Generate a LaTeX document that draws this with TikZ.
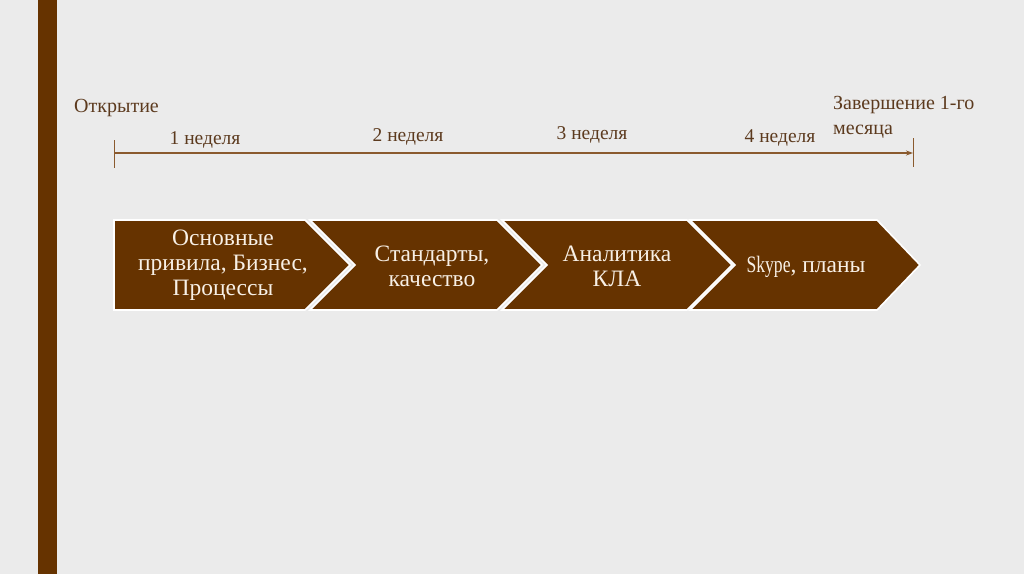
\documentclass[tikz,border=0pt]{standalone}
\usepackage{fontspec}
\setmainfont{Liberation Serif}
\usetikzlibrary{arrows.meta}
\definecolor{bg}{HTML}{EBEBEB}
\definecolor{brn}{HTML}{663300}
\definecolor{lbl}{HTML}{5C3A1E}
\definecolor{tl}{HTML}{8A5A2E}
\definecolor{cream}{HTML}{F8F0E6}
\tikzset{
  chev/.style={fill=brn, draw=white, line width=1.6pt, line join=miter},
  chevtext/.style={text=cream, font=\fontsize{23.5}{25}\selectfont, align=center, inner sep=0pt},
  toplbl/.style={text=lbl, font=\fontsize{20}{25}\selectfont, inner sep=0pt},
  wklbl/.style={text=lbl, font=\fontsize{19.5}{22}\selectfont, inner sep=0pt},
}
\begin{document}
\begin{tikzpicture}[x=1pt,y=-1pt]
\useasboundingbox[fill=bg] (0,0) rectangle (1024,574);
\fill[brn] (38,0) rectangle (57,574);
% timeline
\coordinate (ts) at (114,153);
\coordinate (te) at (913,153);
\draw[tl, line width=1pt] (114,140) -- (114,168);
\draw[tl, line width=1pt] (913,138) -- (913,167);
\draw[tl, line width=1.2pt, -{Stealth[length=7pt,width=5pt]}] (ts) -- (te);
\node[toplbl, anchor=west] (open) at (74,108) {Открытие};
\node[toplbl, anchor=west, align=left] (close) at (833,117) {Завершение 1-го\\месяца};
\node[wklbl] (w1) at (205,140) {1 неделя};
\node[wklbl] (w2) at (408,137) {2 неделя};
\node[wklbl] (w3) at (592,135) {3 неделя};
\node[wklbl] (w4) at (780,138) {4 неделя};
% chevrons
\draw[chev] (114,220) -- (305,220) -- (350,265) -- (305,310) -- (114,310) -- cycle;
\draw[chev] (310,220) -- (497,220) -- (542,265) -- (497,310) -- (310,310) -- (355,265) -- cycle;
\draw[chev] (502,220) -- (687,220) -- (732,265) -- (687,310) -- (502,310) -- (547,265) -- cycle;
\draw[chev] (690,220) -- (877,220) -- (920,265) -- (877,310) -- (690,310) -- (735,265) -- cycle;
\node[chevtext] (c1) at (223,265) {Основные\\привила, Бизнес,\\Процессы};
\node[chevtext] (c2) at (432,266) {Стандарты,\\качество};
\node[chevtext] (c3) at (617,266) {Аналитика\\КЛА};
\node[chevtext] (c4) at (806,267) {\scalebox{0.75}[1]{Skype}, планы};
\end{tikzpicture}
\end{document}
